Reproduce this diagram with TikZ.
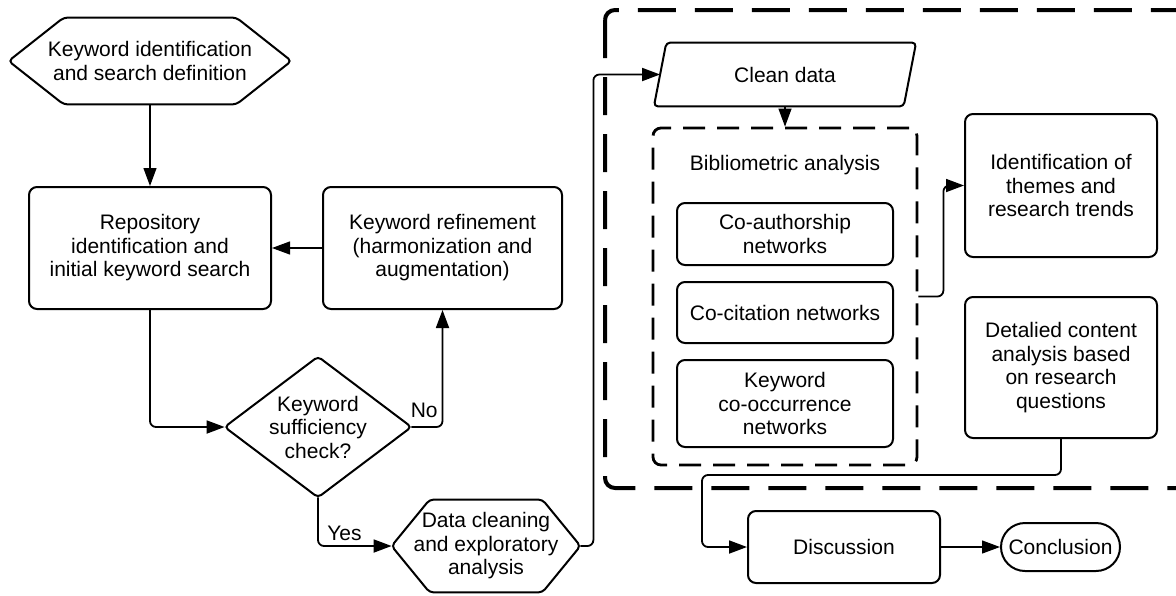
\documentclass[tikz,border=0pt]{standalone}
\usepackage{fontspec}
\setmainfont{Liberation Sans}
\usetikzlibrary{arrows.meta,positioning,calc}
\tikzset{
  box/.style={draw,rounded corners=4pt,line width=1pt,align=center,inner sep=2pt},
  shp/.style={align=center,inner sep=0pt},
  outl/.style={draw,line width=1pt,rounded corners=2pt},
  grp/.style={draw,rounded corners=5pt,line width=2pt,dash pattern=on 19pt off 9.5pt},
  sub/.style={draw,rounded corners=4pt,line width=1.4pt,dash pattern=on 11pt off 6pt},
  arr/.style={-{Triangle[length=9pt,width=6.5pt]},line width=0.6pt},
  earr/.style={arr,line width=0.9pt,rounded corners=3pt},
  lbl/.style={inner sep=2pt},
}
\begin{document}
\begin{tikzpicture}[x=0.5pt,y=-0.5pt,font=\fontsize{10.5pt}{11.75pt}\selectfont]
\useasboundingbox (0,0) rectangle (1176,595);
\clip (0,0) rectangle (1176,595);
% search phase
\node[shp,minimum width=141pt,minimum height=43pt] (kwid) at (150,61) {Keyword identification\\and search definition};
\draw[outl] (kwid.west) -- ([xshift=27.5pt]kwid.north west) -- ([xshift=-27.5pt]kwid.north east) -- (kwid.east)
  -- ([xshift=-27.5pt]kwid.south east) -- ([xshift=27.5pt]kwid.south west) -- cycle;
\node[box,minimum width=121pt,minimum height=61pt] (repo) at (150,248) {Repository\\identification and\\initial keyword search};
\node[box,minimum width=119.5pt,minimum height=61pt] (refine) at (442.5,248) {Keyword refinement\\(harmonization and\\augmentation)};
\node[shp,minimum width=93pt,minimum height=70pt] (check) at (318,427) {Keyword\\sufficiency\\check?};
\draw[outl] (check.west) -- (check.north) -- (check.east) -- (check.south) -- cycle;
\node[shp,minimum width=94pt,minimum height=46pt] (prep) at (486,546) {Data cleaning\\and exploratory\\analysis};
\draw[outl] (prep.west) -- ([xshift=19pt]prep.north west) -- ([xshift=-19pt]prep.north east) -- (prep.east)
  -- ([xshift=-19pt]prep.south east) -- ([xshift=19pt]prep.south west) -- cycle;
% analysis phase
\draw[grp] (605,10) rectangle (1200,488);
\node[shp,minimum width=124.5pt,minimum height=31.5pt] (clean) at (785,74.5) {Clean data};
\draw[outl] ([xshift=-3.1pt]clean.south west) -- ([xshift=3.1pt]clean.north west) -- ([xshift=3.1pt]clean.north east)
  -- ([xshift=-3.1pt]clean.south east) -- cycle;
\node[sub,minimum width=132pt,minimum height=168.5pt] (biblio) at (785,296.5) {};
\node (bibt) at (785,165) {Bibliometric analysis};
\node[box,minimum width=108pt,minimum height=31pt] (coauth) at (785,234) {Co-authorship\\networks};
\node[box,minimum width=108pt,minimum height=30.5pt] (cocit) at (785,312.5) {Co-citation networks};
\node[box,minimum width=108pt,minimum height=43.5pt] (cooc) at (785,403.5) {Keyword\\co-occurrence\\networks};
\node[box,minimum width=96pt,minimum height=71.5pt] (themes) at (1061,185.5) {Identification of\\themes and\\research trends};
\node[box,minimum width=96pt,minimum height=70.5pt] (content) at (1061,367.5) {Detalied content\\analysis based\\on research\\questions};
\node[box,minimum width=96pt,minimum height=36pt] (disc) at (844,547) {Discussion};
\node[box,rounded corners=12pt,minimum width=59.5pt,minimum height=24pt,inner sep=1pt] (concl) at (1060.5,547) {Conclusion};
% connectors
\draw[arr] (kwid.south) -- (repo.north);
\draw[arr] (refine) -- (repo);
\draw[earr] (repo.south) |- (check.west);
\draw[earr] (check.east) -| node[lbl,pos=0.57,left] {No} (refine.south);
\draw[earr] (check.south) |- node[lbl,pos=0.68,above] {Yes} (prep.west);
\draw[earr] (prep.east) -- ++(13,0) |- (clean.west);
\draw[arr] (clean.south) -- (biblio.north);
\draw[earr] (biblio.east) -- ++(25,0) |- (themes.west);
\draw[earr] (content.south) -- ++(0,36) -- ++(-359,0) |- (disc.west);
\draw[arr] (disc) -- (concl);
\end{tikzpicture}
\end{document}
